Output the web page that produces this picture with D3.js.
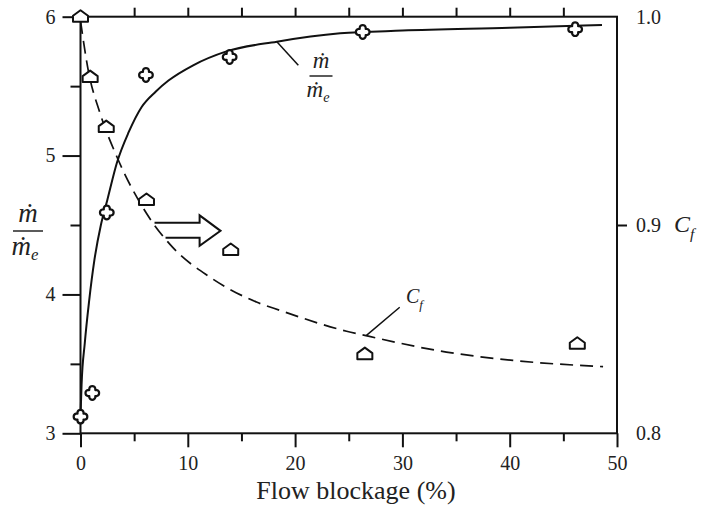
<!DOCTYPE html>
<html>
<head>
<meta charset="utf-8">
<script src="https://cdn.jsdelivr.net/npm/d3@7"></script>
<style>
body{margin:0;background:#fff;}
svg{display:block;}
</style>
</head>
<body>
<script>
//measured points, flow blockage (%) vs mass flow ratio (left axis)
var massX=[0,1.1,2.45,6.1,13.9,26.3,46.1];
var massY=[3.12,3.29,4.59,5.58,5.71,5.89,5.91];
//measured points, flow blockage (%) vs Cf (right axis)
var cfX=[0,0.9,2.4,6.15,14.0,26.5,46.3];
var cfY=[1.0,0.971,0.947,0.912,0.888,0.838,0.843];
//fitted curves
var massCurveX=[0,0.1,0.4,0.8,1.3,1.9,2.5,3.4,4.5,5.7,7,8.2,10.5,13.6,18.3,24.2,30,40,48.6];
var massCurveY=[3.12,3.35,3.65,3.95,4.25,4.5,4.68,4.95,5.17,5.35,5.46,5.54,5.65,5.75,5.82,5.88,5.9,5.92,5.94];
var cfCurveX=[0,0.73,1.8,3.37,6.16,8.64,12.06,16.4,18.6,24.8,26.5,34.1,40.3,48.7];
var cfCurveY=[0.998,0.974,0.954,0.933,0.9055,0.889,0.875,0.863,0.859,0.849,0.847,0.839,0.835,0.832];
//tick values
var xTicks=[0,10,20,30,40,50];
var xMinor=[5,15,25,35,45];
var xTop=[5,10,15,20,25,30,35,40,45];
var yLeftTicks=[3,4,5,6];
var yLeftMinor=[3.5,4.5,5.5];
var yRightTicks=[0.8,0.9,1.0];

(function(){
	var width=701,height=512;
	var serif="Liberation Serif";
	var svg=d3.select("body").append("svg")
		.attr("width",width)
		.attr("height",height);

	//scales
	var x=d3.scaleLinear().domain([0,50]).range([80.5,617]);
	var yL=d3.scaleLinear().domain([3,6]).range([433.3,16.7]);
	var yR=d3.scaleLinear().domain([0.8,1.0]).range([433.3,16.7]);

	var ink="#111";

	//bottom axis, major and minor
	var bottom=svg.append("g").attr("transform","translate(0,"+yL(3)+")");
	bottom.call(d3.axisBottom(x).tickValues(xTicks).tickSize(14).tickPadding(9).tickFormat(d3.format("d")));
	bottom.append("g").call(d3.axisBottom(x).tickValues(xMinor).tickSize(8).tickFormat(""));
	//top axis
	var top=svg.append("g").attr("transform","translate(0,"+yL(6)+")");
	top.call(d3.axisTop(x).tickValues(xTop).tickSize(9).tickFormat(""));
	//left axis
	var left=svg.append("g").attr("transform","translate("+x(0)+",0)");
	left.call(d3.axisLeft(yL).tickValues(yLeftTicks).tickSize(18).tickPadding(7).tickFormat(d3.format("d")));
	left.append("g").call(d3.axisLeft(yL).tickValues(yLeftMinor).tickSize(10).tickFormat(""));
	//right axis
	var right=svg.append("g").attr("transform","translate("+x(50)+",0)");
	right.call(d3.axisRight(yR).tickValues(yRightTicks).tickSize(10).tickPadding(9).tickFormat(d3.format(".1f")));

	svg.selectAll(".domain").remove();
	svg.selectAll(".tick line").attr("stroke",ink).attr("stroke-width",2);
	svg.selectAll(".tick text")
		.attr("font-family",serif).attr("font-size",20).attr("fill","#222");
	right.selectAll(".tick line").filter(function(d){return d!=0.9;}).remove();
	right.selectAll(".tick text").attr("x",19);

	//frame
	svg.append("rect")
		.attr("x",x(0)).attr("y",yL(6))
		.attr("width",x(50)-x(0)).attr("height",yL(3)-yL(6))
		.attr("fill","none").attr("stroke",ink).attr("stroke-width",2);

	//curves
	var massLine=d3.line()
		.x(function(d){return x(d[0]);})
		.y(function(d){return yL(d[1]);})
		.curve(d3.curveMonotoneX);
	var cfLine=d3.line()
		.x(function(d){return x(d[0]);})
		.y(function(d){return yR(d[1]);})
		.curve(d3.curveMonotoneX);

	svg.append("path")
		.datum(d3.zip(massCurveX,massCurveY))
		.attr("d",massLine)
		.attr("fill","none").attr("stroke",ink).attr("stroke-width",2);
	svg.append("path")
		.datum(d3.zip(cfCurveX,cfCurveY))
		.attr("d",cfLine)
		.attr("fill","none").attr("stroke",ink).attr("stroke-width",1.7)
		.attr("stroke-dasharray","13,7");

	//markers: lobed cross and pentagon "house"
	var crossPath="M-3,-3L-3,-4.5A3.1,3.1 0 0 1 3,-4.5L3,-3L4.5,-3A3.1,3.1 0 0 1 4.5,3L3,3L3,4.5"
		+"A3.1,3.1 0 0 1 -3,4.5L-3,3L-4.5,3A3.1,3.1 0 0 1 -4.5,-3Z";
	var housePath="M0,-6.5L7.5,-1L7.5,5L-7.5,5L-7.5,-1Z";

	svg.selectAll(".cfPt")
		.data(d3.zip(cfX,cfY))
		.enter().append("path")
		.attr("class","cfPt")
		.attr("d",housePath)
		.attr("transform",function(d){return "translate("+x(d[0])+","+yR(d[1])+")";})
		.attr("fill","#fff").attr("stroke",ink).attr("stroke-width",2)
		.attr("stroke-linejoin","round");
	svg.selectAll(".massPt")
		.data(d3.zip(massX,massY))
		.enter().append("path")
		.attr("class","massPt")
		.attr("d",crossPath)
		.attr("transform",function(d){return "translate("+x(d[0])+","+yL(d[1])+")";})
		.attr("fill","#fff").attr("stroke",ink).attr("stroke-width",2.2)
		.attr("stroke-linejoin","round");

	//hollow arrow pointing to the right axis
	var ax0=x(6.9),ax1=x(11.1),ax2=x(13.05),ay=yL(4.458);
	svg.append("path")
		.attr("d","M"+ax0+","+(ay-8)+"L"+ax1+","+(ay-8)+"L"+ax1+","+(ay-15.5)+"L"+ax2+","+ay
			+"L"+ax1+","+(ay+15)+"L"+ax1+","+(ay+7)+"L"+(ax0+11)+","+(ay+7))
		.attr("fill","none").attr("stroke",ink).attr("stroke-width",2)
		.attr("stroke-linejoin","miter");

	//leader lines
	svg.append("line")
		.attr("x1",x(18.3)).attr("y1",yL(5.82))
		.attr("x2",x(20.3)).attr("y2",yL(5.65))
		.attr("stroke",ink).attr("stroke-width",1.5);
	svg.append("line")
		.attr("x1",x(26.65)).attr("y1",yR(0.847))
		.attr("x2",x(29.75)).attr("y2",yR(0.8605))
		.attr("stroke",ink).attr("stroke-width",1.5);

	//fraction label helper: m-dot over m-dot sub e
	function fraction(cx,yNum,yBar,yDen,size,barW){
		var g=svg.append("g");
		g.append("text")
			.attr("font-family",serif).attr("font-style","italic").attr("fill","#222")
			.attr("x",cx).attr("y",yNum).attr("text-anchor","middle")
			.attr("font-size",size).text("\u1E41");
		g.append("line")
			.attr("x1",cx-barW/2).attr("x2",cx+barW/2)
			.attr("y1",yBar).attr("y2",yBar)
			.attr("stroke","#333").attr("stroke-width",1.6);
		var t=g.append("text")
			.attr("font-family",serif).attr("font-style","italic").attr("fill","#222")
			.attr("x",cx-3).attr("y",yDen).attr("text-anchor","middle")
			.attr("font-size",size);
		t.append("tspan").text("\u1E41");
		t.append("tspan").attr("font-size",size*0.62).attr("dy",size*0.2).text("e");
	}
	fraction(28,222,231,255,27,30);
	fraction(321,68,76,97,23,23);

	//C_f labels
	function cfLabel(xx,yy,size){
		var t=svg.append("text")
			.attr("font-family",serif).attr("font-style","italic").attr("fill","#222")
			.attr("x",xx).attr("y",yy).attr("font-size",size);
		t.append("tspan").text("C");
		t.append("tspan").attr("font-size",size*0.65).attr("dy",size*0.28).text("f");
	}
	cfLabel(674,232,24);
	cfLabel(406,303,20);

	//x-axis title
	svg.append("text")
		.attr("font-family",serif).attr("fill","#222")
		.attr("x",356).attr("y",499).attr("text-anchor","middle")
		.attr("font-size",26).text("Flow blockage (%)");
})();
</script>
</body>
</html>
